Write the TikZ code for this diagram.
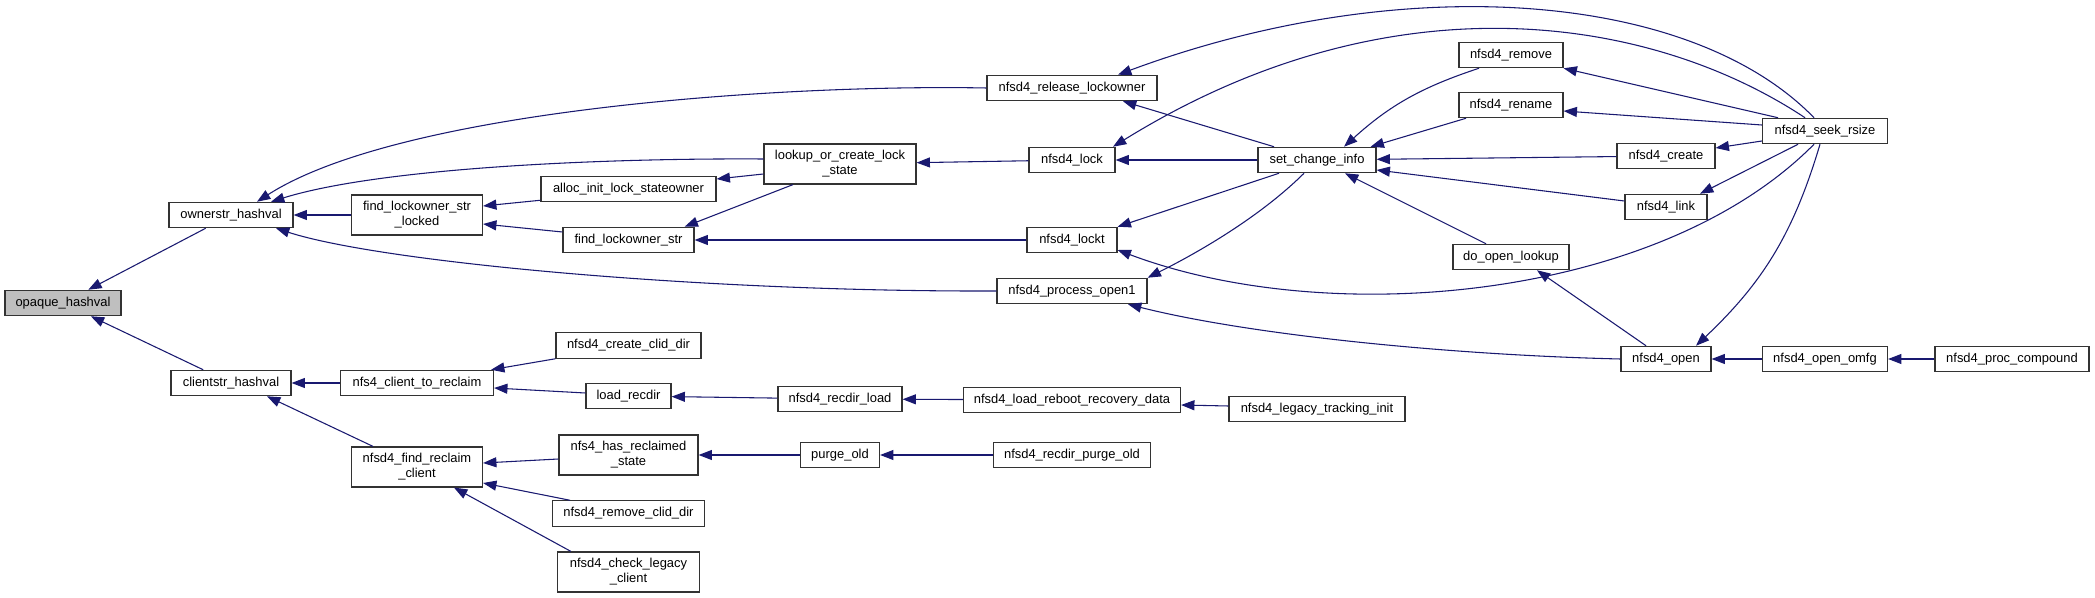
\documentclass[tikz,border=0pt]{standalone}
\usepackage{fontspec}
\setmainfont{Liberation Sans}
\usepackage{tikz}
\usetikzlibrary{positioning,arrows.meta,calc}
\definecolor{edgeblue}{HTML}{191970}
\tikzset{
  fn/.style    = {rectangle, draw=black!80, line width=0.9pt, fill=white,
                  align=center, inner sep=0pt, minimum height=19pt,
                  font=\fontsize{9.7}{11.3}\selectfont},
  fn2/.style   = {fn, minimum height=30pt},
  bw/.style    = {minimum width=#1*0.75pt},
  focus/.style = {fill=black!25},
  call/.style  = {-{Triangle[length=10pt,width=7.5pt]}, line width=0.8pt, edgeblue},
}

\begin{document}
\begin{tikzpicture}[x=0.75pt, y=-0.75pt]

      \useasboundingbox[fill=white] (0,0) rectangle (2095,598);

      \node[fn, focus, bw=116] (opaque) at (63,303) {opaque\_hashval};
      \node[fn, bw=124] (ownerstr) at (231,215) {ownerstr\_hashval};
      \node[fn, bw=120] (clientstr) at (231,383) {clientstr\_hashval};

      \node[fn2, bw=131] (findlocked) at (417,215) {find\_lockowner\_str\\\_locked};
      \node[fn, bw=153] (ctoreclaim) at (417,383) {nfs4\_client\_to\_reclaim};
      \node[fn2, bw=131] (findreclaim) at (417,467) {nfsd4\_find\_reclaim\\\_client};

      \node[fn, bw=175] (allocinit) at (628.5,189) {alloc\_init\_lock\_stateowner};
      \node[fn, bw=131] (findstr) at (628.5,240) {find\_lockowner\_str};
      \node[fn, bw=145] (createclid) at (628.5,345.5) {nfsd4\_create\_clid\_dir};
      \node[fn, bw=85] (loadrecdir) at (628.5,396) {load\_recdir};
      \node[fn2, bw=139] (hasreclaimed) at (628.5,455) {nfs4\_has\_reclaimed\\\_state};
      \node[fn, bw=152] (removeclid) at (628.5,513.5) {nfsd4\_remove\_clid\_dir};
      \node[fn2, bw=142] (checklegacy) at (628.5,572) {nfsd4\_check\_legacy\\\_client};

      \node[fn2, bw=152] (lookup) at (840,164) {lookup\_or\_create\_lock\\\_state};
      \node[fn, bw=124] (recdirload) at (840,399) {nfsd4\_recdir\_load};
      \node[fn, bw=79] (purgeold) at (840,455) {purge\_old};

      \node[fn, bw=170] (release) at (1072,88) {nfsd4\_release\_lockowner};
      \node[fn, bw=86] (lock) at (1072,160) {nfsd4\_lock};
      \node[fn, bw=90] (lockt) at (1072,240) {nfsd4\_lockt};
      \node[fn, bw=150] (openone) at (1072,291) {nfsd4\_process\_open1};
      \node[fn, bw=217] (loadreboot) at (1072,400) {nfsd4\_load\_reboot\_recovery\_data};
      \node[fn, bw=157] (recdirpurge) at (1072,455) {nfsd4\_recdir\_purge\_old};

      \node[fn, bw=118] (setchange) at (1317,160) {set\_change\_info};
      \node[fn, bw=176] (legacyinit) at (1317,409) {nfsd4\_legacy\_tracking\_init};

      \node[fn, bw=104] (remove) at (1511,55) {nfsd4\_remove};
      \node[fn, bw=104] (rename) at (1511,105) {nfsd4\_rename};
      \node[fn, bw=116] (doopen) at (1511,257) {do\_open\_lookup};

      \node[fn, bw=98] (create) at (1666,156) {nfsd4\_create};
      \node[fn, bw=82] (link) at (1666,207) {nfsd4\_link};
      \node[fn, bw=90] (open) at (1666,359) {nfsd4\_open};

      \node[fn, bw=125] (seek) at (1825,131) {nfsd4\_seek\_rsize};
      \node[fn, bw=125] (omfg) at (1825,359) {nfsd4\_open\_omfg};
      \node[fn, bw=154] (compound) at (2012,359) {nfsd4\_proc\_compound};

      \draw[call] (ownerstr) -- (opaque);
      \draw[call] (clientstr) -- (opaque);
      \draw[call] (findlocked) -- (ownerstr);
      \draw[call] (release.west) .. controls (780,84) and (400,110) .. ($(ownerstr.north)+(26,0)$);
      \draw[call] ($(lookup.west)+(0,-5)$) .. controls (600,158) and (380,168) .. ($(ownerstr.north)+(40,0)$);
      \draw[call] (openone.west) .. controls (700,292) and (380,262) .. ($(ownerstr.south)+(45,0)$);
      \draw[call] ($(allocinit.south west)+(0,-2)$) -- ($(findlocked.east)+(0,-9)$);
      \draw[call] ($(findstr.west)+(0,-8)$) -- ($(findlocked.east)+(0,9)$);
      \draw[call] ($(lookup.west)+(0,10)$) -- ($(allocinit.east)+(0,-10)$);
      \draw[call] ($(lookup.south)+(-47,0)$) -- ($(findstr.north east)+(-10,0)$);
      \draw[call] (lockt) -- (findstr);
      \draw[call] (lock) -- (lookup);

      \draw[call] ($(setchange.north)+(-43,0)$) -- ($(release.south)+(51,0)$);
      \draw[call] ($(seek.north)+(-11,0)$) .. controls (1690,-10) and (1400,-30) .. ($(release.north)+(46,0)$);
      \draw[call] (setchange) -- (lock);
      \draw[call] ($(seek.north)+(-20,0)$) .. controls (1650,15) and (1390,-25) .. ($(lock.north)+(41,0)$);
      \draw[call] ($(setchange.south)+(-38,0)$) -- (lockt.north east);
      \draw[call] ($(seek.south)+(-11,0)$) .. controls (1660,300) and (1330,330) .. ($(lockt.east)+(0,10)$);
      \draw[call] ($(setchange.south)+(-13,0)$) .. controls (1264,213) and (1207,248) .. (openone.north east);
      \draw[call] (open.west) .. controls (1450,355) and (1250,335) .. ($(openone.south)+(56,0)$);

      \draw[call] ($(remove.south)+(-32,0)$) to[bend right=12] ($(setchange.north)+(27,0)$);
      \draw[call] ($(rename.south)+(-45,0)$) -- ($(setchange.north east)+(-6,0)$);
      \draw[call] (create) -- (setchange);
      \draw[call] ($(link.west)+(0,-6)$) -- ($(setchange.east)+(0,10)$);
      \draw[call] ($(doopen.north)+(-25,0)$) -- ($(setchange.south)+(28,0)$);

      \draw[call] ($(seek.north)+(-47,0)$) -- (remove.south east);
      \draw[call] ($(seek.west)+(0,-6)$) -- ($(rename.east)+(0,6)$);
      \draw[call] ($(seek.west)+(0,10)$) -- ($(create.east)+(0,-8)$);
      \draw[call] ($(seek.south)+(-27,0)$) -- ($(link.north)+(34,0)$);
      \draw[call] ($(open.north)+(-20,0)$) -- ($(doopen.south)+(26,0)$);
      \draw[call] ($(seek.south)+(-5,0)$) to[bend left=15] ($(open.north)+(30,0)$);
      \draw[call] (omfg) -- (open);
      \draw[call] (compound) -- (omfg);

      \draw[call] (ctoreclaim) -- (clientstr);
      \draw[call] ($(findreclaim.north)+(-44,0)$) -- ($(clientstr.south)+(36,0)$);
      \draw[call] (createclid.south west) -- ($(ctoreclaim.north east)+(-3,0)$);
      \draw[call] ($(loadrecdir.west)+(0,-3)$) -- ($(ctoreclaim.east)+(0,5)$);
      \draw[call] (recdirload) -- (loadrecdir);
      \draw[call] (loadreboot) -- (recdirload);
      \draw[call] ($(legacyinit.west)+(0,-3)$) -- ($(loadreboot.east)+(0,5)$);
      \draw[call] ($(hasreclaimed.west)+(0,4)$) -- ($(findreclaim.east)+(0,-4)$);
      \draw[call] ($(removeclid.north west)+(18,0)$) -- ($(findreclaim.east)+(0,16)$);
      \draw[call] ($(checklegacy.north west)+(14,0)$) -- ($(findreclaim.south)+(37,0)$);
      \draw[call] (purgeold) -- (hasreclaimed);
      \draw[call] (recdirpurge) -- (purgeold);

\end{tikzpicture}
\end{document}
